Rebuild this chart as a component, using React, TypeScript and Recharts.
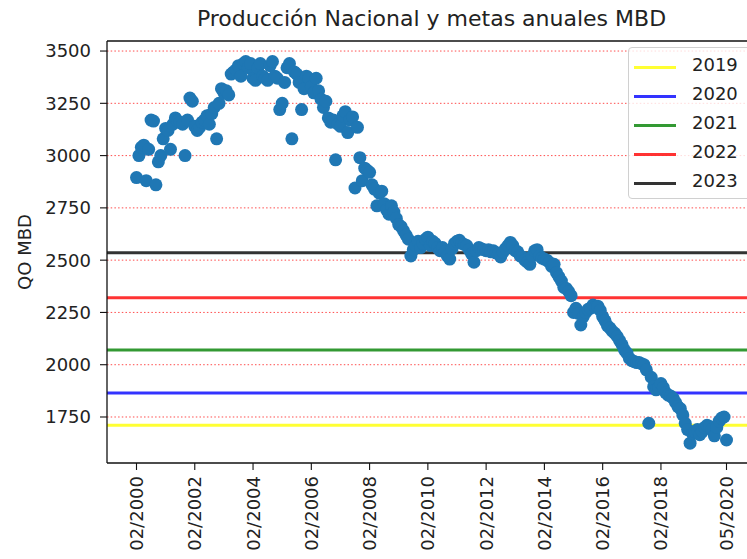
import React from 'react'
import { ScatterChart, Scatter, XAxis, YAxis, CartesianGrid, ReferenceLine } from 'recharts'

// producción mensual (MBD), desde 02/2000 hasta 05/2020
const produccion = [
  // 02/2000 - 01/2001
  2895, 3000, 3040, 3050, 2880, 3030, 3170, 3165, 2860, 2970, 3000, 3080,
  // 2001
  3130, 3120, 3030, 3150, 3180, 3165, 3160, 3150, 3000, 3170, 3275, 3260,
  // 2002
  3140, 3120, 3135, 3160, 3170, 3190, 3150, 3200, 3230, 3080, 3250, 3320,
  // 2003
  3300, 3310, 3290, 3390, 3400, 3410, 3430, 3380, 3440, 3450, 3420, 3440,
  // 2004
  3370, 3360, 3420, 3440, 3380, 3370, 3360, 3430, 3450, 3380, 3370, 3220,
  // 2005
  3250, 3350, 3420, 3440, 3080, 3400, 3390, 3350, 3220, 3320, 3380, 3370,
  // 2006
  3330, 3300, 3370, 3310, 3270, 3230, 3260, 3180, 3160, 3170, 2980, 3150,
  // 2007
  3140, 3190, 3210, 3110, 3170, 3185, 2845, 3135, 2990, 2880, 2940, 2930,
  // 2008
  2920, 2860, 2840, 2760, 2820, 2830, 2770, 2740, 2720, 2760, 2730, 2700,
  // 2009
  2670, 2660, 2640, 2620, 2600, 2520, 2550, 2570, 2590, 2560, 2580, 2600,
  // 2010
  2610, 2570, 2590, 2580, 2560, 2545, 2560, 2540, 2520, 2505, 2555, 2580,
  // 2011
  2590, 2595, 2580, 2575, 2570, 2550, 2530, 2490, 2545, 2560, 2555, 2550,
  // 2012
  2545, 2550, 2540, 2545, 2535, 2530, 2515, 2540, 2555, 2570, 2585, 2570,
  // 2013
  2545, 2540, 2520, 2515, 2500, 2490, 2480, 2520, 2545, 2550, 2520, 2510,
  // 2014
  2505, 2500, 2490, 2470, 2480, 2440, 2420, 2400, 2370, 2365, 2350, 2330,
  // 2015
  2250, 2270, 2245, 2190, 2230, 2250, 2265, 2270, 2285, 2275, 2280, 2260,
  // 2016
  2230, 2210, 2185, 2175, 2160, 2150, 2135, 2115, 2095, 2070, 2055, 2030,
  // 2017
  2020, 2015, 2010, 2010, 2005, 2000, 1975, 1720, 1940, 1895, 1880, 1890,
  // 2018
  1910, 1890, 1865, 1855, 1850, 1840, 1820, 1800, 1790, 1760, 1720, 1690,
  // 2019
  1625, 1670, 1680, 1690, 1665, 1680, 1700, 1710, 1705, 1690, 1660, 1700,
  // 2020
  1730, 1745, 1750, 1640,
]

const tickIndices = [0, 24, 48, 72, 96, 120, 144, 168, 192, 216, 243]
const tickLabels = ['02/2000', '02/2002', '02/2004', '02/2006', '02/2008', '02/2010', '02/2012', '02/2014', '02/2016', '02/2018', '05/2020']
const yTicks = [1750, 2000, 2250, 2500, 2750, 3000, 3250, 3500]

const metaYears = ['2019', '2020', '2021', '2022', '2023']
const metaValues = [1710, 1865, 2070, 2320, 2535]
const metaColors = ['#ffff00', '#0000ff', '#008000', '#ff0000', '#000000']

const data = produccion.map((qo, i) => ({ i, qo }))

const XMIN = -12.15
const XMAX = 255.15
const YMIN = 1530
const YMAX = 3548

function XTick({ x, y, payload }: any) {
  const idx = tickIndices.indexOf(payload.value)
  return (
    <g transform={`translate(${x},${y})`}>
      <text transform="rotate(-90)" textAnchor="end" dy="0.36em" fontSize={18} fill="#222">
        {tickLabels[idx]}
      </text>
    </g>
  )
}

const dot = (props: any) => <circle cx={props.cx} cy={props.cy} r={6.5} fill="#1f77b4" />

export default function App() {
  return (
    <div
      style={{
        position: 'fixed',
        left: 0,
        top: 0,
        width: 747,
        height: 559,
        overflow: 'hidden',
        background: '#fff',
        fontFamily: '"DejaVu Sans", sans-serif',
        color: '#222',
      }}
    >
      <div
        style={{
          position: 'absolute',
          left: 107,
          width: 649,
          top: 8,
          textAlign: 'center',
          fontSize: 22,
          lineHeight: '22px',
          whiteSpace: 'nowrap',
        }}
      >
        Producción Nacional y metas anuales MBD
      </div>
      <div
        style={{
          position: 'absolute',
          left: 24,
          top: 252,
          transform: 'translate(-50%, -50%) rotate(-90deg)',
          fontSize: 18,
          whiteSpace: 'nowrap',
        }}
      >
        QO MBD
      </div>

      <div style={{ position: 'absolute', left: 0, top: 0 }}>
        <ScatterChart width={770} height={559} margin={{ top: 41, right: 14, bottom: 0, left: 0 }}>
          <CartesianGrid
            vertical={false}
            stroke="#ff0000"
            strokeOpacity={0.7}
            strokeDasharray="1.5 2.2"
            horizontalValues={yTicks}
          />
          <XAxis
            dataKey="i"
            type="number"
            domain={[XMIN, XMAX]}
            allowDataOverflow
            ticks={tickIndices}
            interval={0}
            height={96}
            tick={<XTick />}
            tickSize={7}
            tickMargin={6}
            stroke="#111"
            axisLine={{ stroke: '#111', strokeWidth: 1.3 }}
            tickLine={{ stroke: '#111', strokeWidth: 1.1 }}
          />
          <YAxis
            dataKey="qo"
            type="number"
            domain={[YMIN, YMAX]}
            allowDataOverflow
            ticks={yTicks}
            interval={0}
            width={107}
            tickSize={7}
            tickMargin={9}
            tick={{ fontSize: 18, fill: '#222' }}
            axisLine={{ stroke: '#111', strokeWidth: 1.3 }}
            tickLine={{ stroke: '#111', strokeWidth: 1.1 }}
          />
          <Scatter data={data} fill="#1f77b4" shape={dot} isAnimationActive={false} />
          {metaValues.map((v, k) => (
            <ReferenceLine
              key={metaYears[k]}
              y={v}
              stroke={metaColors[k]}
              strokeOpacity={0.8}
              strokeWidth={3}
            />
          ))}
          {/* marco superior */}
          <ReferenceLine y={YMAX} stroke="#111" strokeWidth={1.3} />
        </ScatterChart>
      </div>

      <div
        style={{
          position: 'absolute',
          left: 628,
          top: 47,
          width: 140,
          height: 152,
          boxSizing: 'border-box',
          border: '1px solid #d0d0d0',
          borderRadius: 4,
          background: 'rgba(255,255,255,0.8)',
        }}
      >
        {metaYears.map((yr, k) => (
          <div key={yr} style={{ position: 'absolute', left: 0, top: 19 + 29 * k, height: 0 }}>
            <div
              style={{
                position: 'absolute',
                left: 5,
                top: -1.5,
                width: 42,
                height: 3,
                background: metaColors[k],
                opacity: 0.8,
              }}
            />
            <div style={{ position: 'absolute', left: 63, top: -13, fontSize: 18, lineHeight: '22px' }}>{yr}</div>
          </div>
        ))}
      </div>
    </div>
  )
}
